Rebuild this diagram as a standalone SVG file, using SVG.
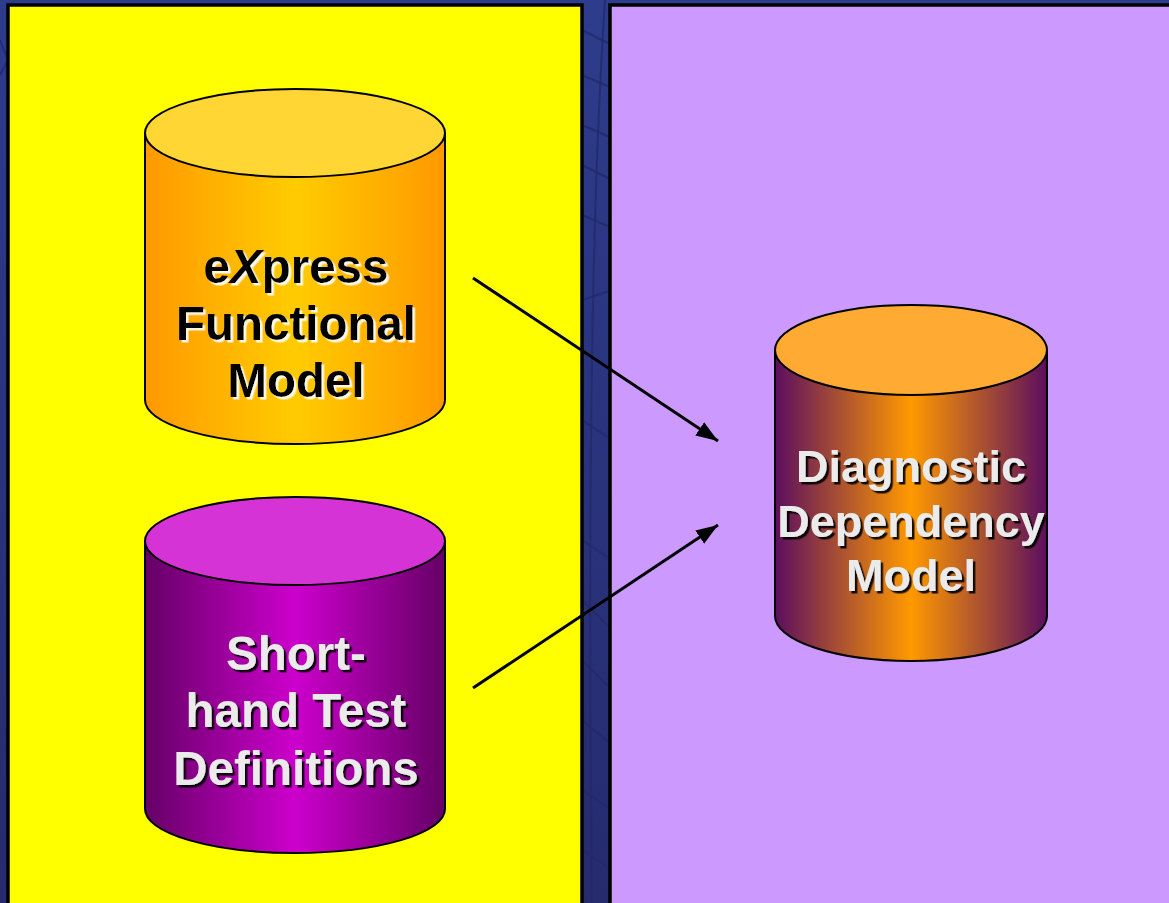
<svg xmlns="http://www.w3.org/2000/svg" width="1169" height="903" viewBox="0 0 1169 903">
  <defs>
    <linearGradient id="bg" x1="0" y1="0" x2="0" y2="1">
      <stop offset="0" stop-color="#2D3C8C"/>
      <stop offset="1" stop-color="#262B6E"/>
    </linearGradient>
    <linearGradient id="g1" x1="0" y1="0" x2="1" y2="0">
      <stop offset="0" stop-color="#FF9900"/>
      <stop offset="0.5" stop-color="#FFCC00"/>
      <stop offset="1" stop-color="#FF9900"/>
    </linearGradient>
    <linearGradient id="g2" x1="0" y1="0" x2="1" y2="0">
      <stop offset="0" stop-color="#660066"/>
      <stop offset="0.5" stop-color="#CC00CC"/>
      <stop offset="1" stop-color="#660066"/>
    </linearGradient>
    <linearGradient id="g3" x1="0" y1="0" x2="1" y2="0">
      <stop offset="0" stop-color="#5C0E5E"/>
      <stop offset="0.5" stop-color="#FF9900"/>
      <stop offset="1" stop-color="#5C0E5E"/>
    </linearGradient>
    <filter id="shLight" x="-10%" y="-20%" width="130%" height="150%">
      <feDropShadow dx="2.5" dy="2.5" stdDeviation="0" flood-color="#FFFFFF" flood-opacity="0.9"/>
    </filter>
    <filter id="shDark" x="-10%" y="-20%" width="130%" height="150%">
      <feDropShadow dx="2.5" dy="2.5" stdDeviation="0" flood-color="#000000" flood-opacity="0.9"/>
    </filter>
    <marker id="arrow" viewBox="0 0 22 16" refX="22" refY="8" markerWidth="22" markerHeight="16" markerUnits="userSpaceOnUse" orient="auto">
      <path d="M0,0 L22,8 L0,16 z" fill="#000"/>
    </marker>
  </defs>
  <style>
    .panel { stroke: #000; stroke-width: 3.5; }
    .cyl { stroke: #000; stroke-width: 2; }
    .lbl { font-family: "Liberation Sans", Arial, sans-serif; font-weight: bold; font-size: 47.5px; text-anchor: middle; }
    .lbl2 { font-family: "Liberation Sans", Arial, sans-serif; font-weight: bold; font-size: 45px; text-anchor: middle; }
    .dark { fill: #000; filter: url(#shLight); }
    .light { fill: #EBEBEB; filter: url(#shDark); }
    .bgline { stroke: #23296A; stroke-width: 2; fill: none; opacity: 0.8; }
    .conn { stroke: #000; stroke-width: 3; fill: none; }
  </style>

  <rect x="0" y="0" width="1169" height="903" fill="url(#bg)"/>
  <g id="background-lines">
    <path class="bgline" d="M605,0 Q585,300 592,903"/>
    <path class="bgline" d="M582,30 L612,45"/>
    <path class="bgline" d="M582,75 L612,88"/>
    <path class="bgline" d="M582,125 L612,138"/>
    <path class="bgline" d="M582,165 L612,180"/>
    <path class="bgline" d="M582,215 L612,228"/>
    <path class="bgline" d="M582,300 L612,290"/>
    <path class="bgline" d="M582,420 L612,440"/>
    <path class="bgline" d="M582,540 L612,560"/>
    <path class="bgline" d="M582,600 L612,630"/>
    <path class="bgline" d="M582,660 L612,690"/>
    <path class="bgline" d="M582,720 L612,745"/>
    <path class="bgline" d="M582,790 L612,810"/>
    <path class="bgline" d="M582,850 L612,870"/>
    <path class="bgline" d="M0,40 L8,60 L0,75"/>
  </g>

  <g id="panel-left">
    <rect class="panel" x="8" y="5" width="574" height="910" fill="#FFFF00"/>
  </g>
  <g id="panel-right">
    <rect class="panel" x="610" y="5" width="570" height="910" fill="#CC99FF"/>
  </g>

  <g id="node-express">
    <path class="cyl" d="M145,133 L145,400 A150,44 0 0 0 445,400 L445,133" fill="url(#g1)"/>
    <ellipse class="cyl" cx="295" cy="133" rx="150" ry="44" fill="#FFD633"/>
    <text class="lbl dark" x="296" y="283">e<tspan font-style="italic">X</tspan>press</text>
    <text class="lbl dark" x="296" y="340">Functional</text>
    <text class="lbl dark" x="296" y="397">Model</text>
  </g>

  <g id="node-shorthand">
    <path class="cyl" d="M145,541 L145,809 A150,44 0 0 0 445,809 L445,541" fill="url(#g2)"/>
    <ellipse class="cyl" cx="295" cy="541" rx="150" ry="44" fill="#D633D6"/>
    <text class="lbl light" x="296" y="670">Short-</text>
    <text class="lbl light" x="296" y="727">hand Test</text>
    <text class="lbl light" x="296" y="785">Definitions</text>
  </g>

  <g id="node-ddm">
    <path class="cyl" d="M775,350 L775,616 A136,45 0 0 0 1047,616 L1047,350" fill="url(#g3)"/>
    <ellipse class="cyl" cx="911" cy="350" rx="136" ry="45" fill="#FFAA33"/>
    <text class="lbl2 light" x="911" y="482">Diagnostic</text>
    <text class="lbl2 light" x="911" y="537">Dependency</text>
    <text class="lbl2 light" x="911" y="591">Model</text>
  </g>

  <g id="connectors">
    <line class="conn" x1="473" y1="278" x2="718" y2="441" marker-end="url(#arrow)"/>
    <line class="conn" x1="473" y1="688" x2="718" y2="525" marker-end="url(#arrow)"/>
  </g>
</svg>
